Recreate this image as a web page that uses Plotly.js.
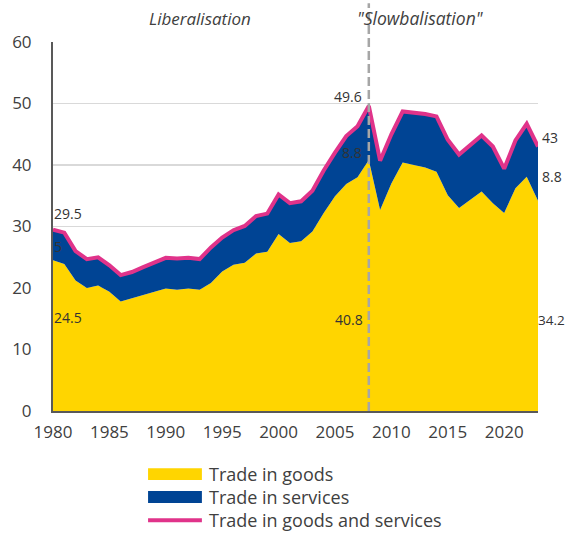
<!DOCTYPE html>
<html>
<head>
<meta charset="utf-8">
<script src="https://cdn.plot.ly/plotly-3.0.1.min.js"></script>
<style>
html,body{margin:0;padding:0;background:#fff;}
#chart{width:567px;height:533px;}
</style>
</head>
<body>
<div id="chart"></div>
<script>
var years = [1980,1981,1982,1983,1984,1985,1986,1987,1988,1989,1990,1991,1992,1993,1994,1995,1996,1997,1998,1999,2000,2001,2002,2003,2004,2005,2006,2007,2008,2009,2010,2011,2012,2013,2014,2015,2016,2017,2018,2019,2020,2021,2022,2023];
var goods = [24.5,23.9,21.2,20.0,20.4,19.4,17.8,18.3,18.9,19.4,19.9,19.7,19.9,19.7,20.8,22.7,23.8,24.1,25.6,25.9,28.8,27.3,27.6,29.2,32.2,34.9,36.9,38.0,40.8,32.7,37.0,40.4,40.0,39.6,38.9,35.1,33.0,34.3,35.7,33.8,32.2,36.2,38.1,34.2];
var services = [5.0,5.1,4.8,4.7,4.6,4.3,4.3,4.3,4.5,4.8,5.0,5.1,5.0,5.0,5.8,5.5,5.6,6.0,6.1,6.2,6.4,6.5,6.5,6.6,6.9,7.1,7.8,8.3,8.8,8.0,8.0,8.3,8.5,8.7,9.0,9.0,8.7,9.0,9.1,9.2,7.2,7.8,8.6,8.8];
var total = [29.5,29.0,26.0,24.7,25.0,23.7,22.1,22.6,23.4,24.2,24.9,24.8,24.9,24.7,26.6,28.2,29.4,30.1,31.7,32.1,35.2,33.8,34.1,35.8,39.1,42.0,44.7,46.3,49.6,40.7,45.0,48.7,48.5,48.3,47.9,44.1,41.7,43.3,44.8,43.0,39.4,44.0,46.7,43.0];
var seriesNames = ["Trade in goods","Trade in services","Trade in goods and services"];
var periodLabels = ["Liberalisation","\"Slowbalisation\""];
var breakYear = 2008;
var xTicks = [1980,1985,1990,1995,2000,2005,2010,2015,2020];
var yTicks = [0,10,20,30,40,50,60];

var YEL = "#FFD500", BLU = "#004494", PNK = "#E0338A", TXT = "#404040";
var FONT = "Open Sans, Noto Sans, sans-serif";

var traces = [
  {x: years, y: goods, type: "scatter", mode: "lines", stackgroup: "one",
   line: {width: 0, color: YEL}, fillcolor: YEL, name: seriesNames[0], showlegend: false, hoverinfo: "skip"},
  {x: years, y: services, type: "scatter", mode: "lines", stackgroup: "one",
   line: {width: 0, color: BLU}, fillcolor: BLU, name: seriesNames[1], showlegend: false, hoverinfo: "skip"},
  {x: years, y: total, type: "scatter", mode: "lines",
   line: {width: 4, color: PNK}, name: seriesNames[2], showlegend: false, hoverinfo: "skip"}
];

var iFirst = 0, iBreak = years.indexOf(breakYear), iLast = years.length - 1;
function lab(x, y, v, anchor, xs, sz) {
  return {x: x, y: y, xref: "x", yref: "y", text: String(v), showarrow: false,
    xanchor: anchor, yanchor: "middle", xshift: xs, font: {family: FONT, size: sz || 14, color: "#333333"}};
}
var ann = [
  lab(years[iFirst], 32.1, total[iFirst], "left", -1),
  lab(years[iFirst], 26.7, services[iFirst], "left", -1),
  lab(years[iFirst], 15.2, goods[iFirst], "left", -1),
  lab(years[iBreak], 51.2, total[iBreak], "right", -5),
  lab(years[iBreak], 42.0, services[iBreak], "right", -5),
  lab(years[iBreak], 14.8, goods[iBreak], "right", -4),
  lab(years[iLast], 44.5, total[iLast], "left", 2),
  lab(years[iLast], 38.2, services[iLast], "left", 2),
  lab(years[iLast], 14.8, goods[iLast], "left", -2, 13.5),
  {x: 0.303, y: 1.065, xref: "paper", yref: "paper", text: "<i>" + periodLabels[0] + "</i>", showarrow: false,
   xanchor: "center", yanchor: "middle", font: {family: FONT, size: 17, color: TXT}},
  {x: 0.758, y: 1.065, xref: "paper", yref: "paper", text: "<i>" + periodLabels[1] + "</i>", showarrow: false,
   xanchor: "center", yanchor: "middle", font: {family: FONT, size: 17.5, color: TXT}}
];
// legend text
var legY = [-0.171, -0.233, -0.296];
for (var k = 0; k < 3; k++) {
  ann.push({x: 0.317, y: legY[k], xref: "paper", yref: "paper", text: seriesNames[k], showarrow: false,
    xanchor: "left", yanchor: "middle", font: {family: FONT, size: 18, color: TXT}});
}

var shapes = [
  {type: "line", xref: "x", yref: "paper", x0: breakYear, x1: breakYear, y0: 0, y1: 1.105,
   line: {color: "#A6A6A6", width: 2.5, dash: "9px,4px"}},
  {type: "rect", xref: "paper", yref: "paper", x0: 0.196, x1: 0.307, y0: legY[0] - 0.016, y1: legY[0] + 0.016,
   fillcolor: YEL, line: {width: 0}},
  {type: "rect", xref: "paper", yref: "paper", x0: 0.196, x1: 0.307, y0: legY[1] - 0.016, y1: legY[1] + 0.016,
   fillcolor: BLU, line: {width: 0}},
  {type: "line", xref: "paper", yref: "paper", x0: 0.196, x1: 0.307, y0: legY[2], y1: legY[2],
   line: {color: PNK, width: 4}}
];

var layout = {
  width: 567, height: 533,
  margin: {l: 53, r: 29, t: 42, b: 122, pad: 0},
  paper_bgcolor: "#ffffff", plot_bgcolor: "#ffffff",
  showlegend: false,
  font: {family: FONT, size: 17, color: TXT},
  xaxis: {range: [1980, 2023], tickmode: "array", tickvals: xTicks, ticktext: xTicks.map(String),
    showgrid: false, zeroline: false, showline: true, linecolor: "#595959", linewidth: 2,
    ticks: "", ticklabelstandoff: 5, tickfont: {family: FONT, size: 17, color: TXT}, fixedrange: true},
  yaxis: {range: [0, 60], tickmode: "array", tickvals: yTicks, ticktext: yTicks.map(String),
    showgrid: true, gridcolor: "#D9D9D9", gridwidth: 1.5, zeroline: false, showline: true,
    linecolor: "#595959", linewidth: 2, ticks: "", ticklabelstandoff: 16,
    tickfont: {family: FONT, size: 17, color: TXT}, fixedrange: true},
  annotations: ann,
  shapes: shapes
};

Plotly.newPlot("chart", traces, layout, {staticPlot: true, displayModeBar: false});
</script>
</body>
</html>
